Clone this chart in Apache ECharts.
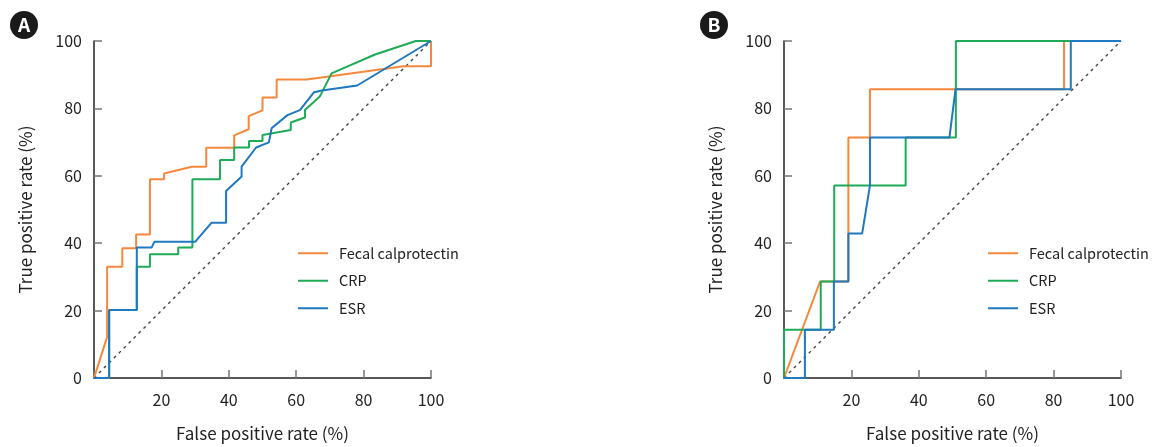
<!DOCTYPE html>
<html>
<head>
<meta charset="utf-8">
<script src="https://cdn.jsdelivr.net/npm/echarts@6/dist/echarts.min.js"></script>
<style>
html,body{margin:0;padding:0;background:#fff;}
#c{width:1153px;height:447px;}
</style>
</head>
<body>
<div id="c"></div>
<script>
// ---- Data (FPR %, TPR %) ----
const seriesNames = ['Fecal calprotectin', 'CRP', 'ESR'];
const axisTicks = [0, 20, 40, 60, 80, 100];

// Panel A
const fecalA = [[0,0],[3.9,12.2],[3.9,33],[8.4,33],[8.4,38.5],[12.5,38.5],[12.5,42.6],[16.6,42.6],[16.6,59],[20.8,59],[20.8,60.7],[29,62.7],[33.3,62.7],[33.3,68.3],[41.6,68.3],[41.6,72],[45.9,73.8],[45.9,77.7],[50,79.4],[50,83.2],[54.2,83.2],[54.2,88.6],[63.1,88.6],[91.8,92.5],[100,92.5],[100,100]];
const crpA = [[0,0],[4.5,0],[4.5,20.2],[12.7,20.2],[12.7,33],[16.6,33],[16.6,36.7],[25,36.7],[25,38.7],[29.2,38.7],[29.2,59],[37.4,59],[37.4,64.7],[41.6,64.7],[41.6,68.4],[46,68.4],[46,70.3],[50,70.3],[50,72.1],[58.4,73.6],[58.4,75.8],[62.6,77.3],[62.6,79.5],[67,83.5],[70.5,90.4],[83.4,96],[95.5,100],[100,100]];
const esrA = [[0,0],[4.5,0],[4.5,20.2],[12.7,20.2],[12.7,38.7],[17.1,38.7],[17.9,40.4],[30,40.4],[34.9,46.1],[39.2,46.1],[39.2,55.5],[43.8,59.8],[43.8,62.7],[48.1,68.4],[51.9,69.9],[52.7,74.1],[57.4,78],[61.1,79.5],[65.3,84.8],[67.6,85.3],[78.1,86.8],[100,100]];

// Panel B
const fecalB = [[0,0],[10.7,28.6],[19.1,28.6],[19.1,71.4],[25.5,71.4],[25.5,85.7],[83.1,85.7],[83.1,100],[100,100]];
const crpB = [[0,0],[0,14.3],[10.9,14.3],[10.9,28.6],[14.9,28.6],[14.9,57.1],[36.1,57.1],[36.1,71.4],[51,71.4],[51,100],[100,100]];
const esrB = [[0,0],[6.2,0],[6.2,14.3],[14.8,14.3],[14.8,28.6],[19.1,28.6],[19.1,42.9],[23.2,42.9],[25.5,57.1],[25.5,71.4],[49.1,71.4],[50.9,85.7],[85.1,85.7],[85.1,100],[100,100]];

const refLine = [[0,0],[100,100]];

// ---- Styles ----
const colors = ['#F5883C', '#1FAA57', '#1F78C0'];
const FONT = '"Noto Sans CJK KR", "Noto Sans", sans-serif';

function xAxisDef(gi){
  return {
    gridIndex: gi, type: 'value', min: 0, max: 100, interval: 20,
    name: 'False positive rate (%)', nameLocation: 'middle', nameGap: 47,
    nameTextStyle: {fontFamily: FONT, fontSize: 17, color: '#222'},
    axisLine: {show: true, onZero: false, lineStyle: {color: '#222', width: 1.5}},
    axisTick: {show: true, inside: true, length: 8, lineStyle: {color: '#777', width: 1.5}},
    axisLabel: {fontFamily: FONT, fontSize: 16, color: '#222', margin: 14,
      formatter: v => v === 0 ? '' : String(v)},
    splitLine: {show: false}
  };
}
function yAxisDef(gi){
  return {
    gridIndex: gi, type: 'value', min: 0, max: 100, interval: 20,
    name: 'True positive rate (%)', nameLocation: 'middle', nameGap: 60,
    nameTextStyle: {fontFamily: FONT, fontSize: 17, color: '#222'},
    axisLine: {show: true, onZero: false, lineStyle: {color: '#222', width: 1.5}},
    axisTick: {show: true, inside: true, length: 8, lineStyle: {color: '#777', width: 1.5}},
    axisLabel: {fontFamily: FONT, fontSize: 16, color: '#222', margin: 12},
    splitLine: {show: false}
  };
}
function lineSeries(name, data, gi, color){
  return {
    name: name, type: 'line', data: data, xAxisIndex: gi, yAxisIndex: gi,
    showSymbol: false, symbol: 'none', animation: false,
    lineStyle: {color: color, width: 2}, itemStyle: {color: color}, z: 3
  };
}
function refSeries(gi){
  return {
    name: 'ref', type: 'line', data: refLine, xAxisIndex: gi, yAxisIndex: gi,
    showSymbol: false, symbol: 'none', animation: false,
    lineStyle: {color: '#444', width: 1.4, type: [3, 4]}, z: 2
  };
}
function legendDef(left){
  return {
    data: seriesNames, left: left, top: 246, orient: 'vertical', padding: 0,
    icon: 'rect', itemWidth: 30, itemHeight: 2, itemGap: 13,
    textStyle: {fontFamily: FONT, fontSize: 14.5, color: '#222', lineHeight: 14, padding: [0, 0, 0, 6]},
    selectedMode: false
  };
}

const chart = echarts.init(document.getElementById('c'), null, {renderer: 'canvas'});
chart.setOption({
  backgroundColor: '#fff',
  animation: false,
  color: colors,
  grid: [
    {left: 94, right: 722, top: 41, bottom: 69},
    {left: 784, right: 32, top: 41, bottom: 69}
  ],
  xAxis: [xAxisDef(0), xAxisDef(1)],
  yAxis: [yAxisDef(0), yAxisDef(1)],
  legend: [legendDef(298), legendDef(988)],
  series: [
    refSeries(0),
    lineSeries(seriesNames[0], fecalA, 0, colors[0]),
    lineSeries(seriesNames[1], crpA, 0, colors[1]),
    lineSeries(seriesNames[2], esrA, 0, colors[2]),
    refSeries(1),
    lineSeries(seriesNames[0], fecalB, 1, colors[0]),
    lineSeries(seriesNames[1], crpB, 1, colors[1]),
    lineSeries(seriesNames[2], esrB, 1, colors[2])
  ],
  graphic: [
    {type: 'circle', shape: {cx: 24, cy: 25, r: 14}, style: {fill: '#1a1a1a'}},
    {type: 'text', x: 24, y: 25, style: {text: 'A', fill: '#fff', font: 'bold 19px ' + FONT, textAlign: 'center', textVerticalAlign: 'middle'}},
    {type: 'circle', shape: {cx: 714, cy: 25, r: 14}, style: {fill: '#1a1a1a'}},
    {type: 'text', x: 714, y: 25, style: {text: 'B', fill: '#fff', font: 'bold 19px ' + FONT, textAlign: 'center', textVerticalAlign: 'middle'}}
  ]
});
</script>
</body>
</html>
